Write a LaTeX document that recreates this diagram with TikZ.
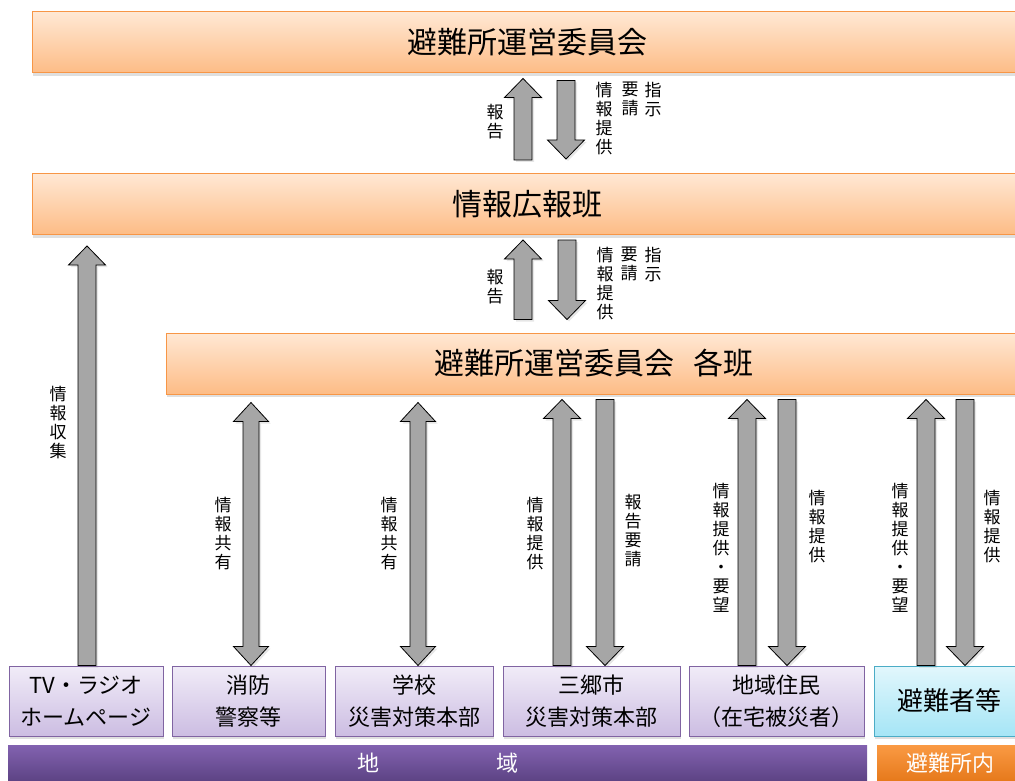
\documentclass[tikz,border=0pt]{standalone}
\usepackage{fontspec}
\newfontfamily\jp{Noto Sans CJK JP}
\usetikzlibrary{calc,shadows}

\definecolor{hdrline}{HTML}{F79646}
\definecolor{hdrtop}{HTML}{FFE8D4}
\definecolor{hdrbot}{HTML}{FDBC86}
\definecolor{orgline}{HTML}{8064A2}
\definecolor{orgtop}{HTML}{F1ECF8}
\definecolor{orgbot}{HTML}{CCBDE2}
\definecolor{evacline}{HTML}{4BACC6}
\definecolor{evactop}{HTML}{E2F7FC}
\definecolor{evacbot}{HTML}{A5E5F6}
\definecolor{regtop}{HTML}{8262B0}
\definecolor{regbot}{HTML}{5D4384}
\definecolor{insidetop}{HTML}{FA9A44}
\definecolor{insidebot}{HTML}{E6791B}
\definecolor{arrgray}{HTML}{A6A6A6}

% block arrows: #1 = tail, #2 = tip
\newcommand\arrup[2]{%
  \draw[blockarr] let \p1=(#1), \p2=(#2) in
    (\x1-9pt,\y1) -- (\x1-9pt,\y2-19pt) -- (\x1-18.5pt,\y2-19pt) -- (\x1,\y2)
    -- (\x1+18.5pt,\y2-19pt) -- (\x1+9pt,\y2-19pt) -- (\x1+9pt,\y1) -- cycle;}
\newcommand\arrdn[2]{%
  \draw[blockarr] let \p1=(#1), \p2=(#2) in
    (\x1-9pt,\y1) -- (\x1-9pt,\y2+19pt) -- (\x1-18.5pt,\y2+19pt) -- (\x1,\y2)
    -- (\x1+18.5pt,\y2+19pt) -- (\x1+9pt,\y2+19pt) -- (\x1+9pt,\y1) -- cycle;}
% #1 = upper tip, #2 = lower tip
\newcommand\arrboth[2]{%
  \draw[blockarr] let \p1=(#1), \p2=(#2) in
    (\x1,\y1) -- (\x1+17.5pt,\y1-19pt) -- (\x1+8pt,\y1-19pt) -- (\x1+8pt,\y2+19pt)
    -- (\x1+17.5pt,\y2+19pt) -- (\x1,\y2) -- (\x1-17.5pt,\y2+19pt) -- (\x1-8pt,\y2+19pt)
    -- (\x1-8pt,\y1-19pt) -- (\x1-17.5pt,\y1-19pt) -- cycle;}

\begin{document}
\begin{tikzpicture}[x=1pt,y=-1pt,
  hdr/.style = {draw=hdrline, line width=1pt,
     top color=hdrtop, bottom color=hdrbot,
     minimum height=61pt, inner sep=0pt,
     font=\jp\fontsize{30}{36}\selectfont,
     drop shadow={opacity=0.25, shadow xshift=1pt, shadow yshift=-3pt}},
  org/.style = {draw=orgline, line width=1pt,
     top color=orgtop, bottom color=orgbot,
     minimum height=70pt, inner sep=0pt, align=center,
     font=\jp\fontsize{22}{32}\selectfont,
     drop shadow={opacity=0.25, shadow xshift=1pt, shadow yshift=-3pt}},
  evac/.style = {draw=evacline, top color=evactop, bottom color=evacbot,
     font=\jp\fontsize{26}{32}\selectfont},
  band/.style = {minimum height=36pt, inner sep=0pt, text=white,
     font=\jp\fontsize{22}{26}\selectfont},
  blockarr/.style = {draw=black, line width=0.8pt, fill=arrgray,
     drop shadow={opacity=0.2, shadow xshift=2pt, shadow yshift=-2pt}},
  vlab/.style = {align=center, inner sep=0pt,
     font=\jp\fontsize{17}{19}\selectfont}]

\useasboundingbox (0,0) rectangle (1015,781);

% committee levels
\node[hdr, minimum width=990pt] (comm) at (527,42.5) {避難所運営委員会};
\node[hdr, minimum width=990pt] (info) at (527,204) {情報広報班};
\node[hdr, minimum width=856pt] (team) at (594,363.5) {避難所運営委員会\hspace{20pt}各班};

% outside parties
\node[org, minimum width=154pt] (tv) at (86,701) {TV・ラジオ\\ホームページ};
\node[org, minimum width=153pt] (fire) at (248.5,701) {消防\\警察等};
\node[org, minimum width=158pt] (school) at (414,701) {学校\\災害対策本部};
\node[org, minimum width=177pt] (city) at (591.5,701) {三郷市\\災害対策本部};
\node[org, minimum width=175pt] (resid) at (776.5,701) {地域住民\\（在宅被災者）};
\node[org, evac, minimum width=150pt] (evacs) at (949,701) {避難者等};

\node[band, minimum width=859pt, top color=regtop, bottom color=regbot]
  (region) at (437.5,763) {地\hspace{117pt}域};
\node[band, minimum width=147pt, top color=insidetop, bottom color=insidebot]
  (inside) at (950.5,763) {避難所内};

% arrows between the levels
\arrup{$(523,0 |- info.north)+(0,-13)$}{$(523,0 |- comm.south)+(0,5)$}
\arrdn{$(566,0 |- comm.south)+(0,7)$}{$(566,0 |- info.north)+(0,-14)$}
\arrup{$(523,0 |- team.north)+(0,-13)$}{$(523,0 |- info.south)+(0,5)$}
\arrdn{$(567,0 |- info.south)+(0,5)$}{$(567,0 |- team.north)+(0,-13)$}

\node[vlab] (rep1) at (495,122) {報\\告};
\node[vlab, anchor=north] (inf1) at (604,82) {情\\報\\提\\供};
\node[vlab, anchor=north] (req1) at (630,82) {要\\請};
\node[vlab, anchor=north] (ord1) at (653,82) {指\\示};
\node[vlab] (rep2) at (495,287) {報\\告};
\node[vlab, anchor=north] (inf2) at (605,247) {情\\報\\提\\供};
\node[vlab, anchor=north] (req2) at (629,247) {要\\請};
\node[vlab, anchor=north] (ord2) at (653,247) {指\\示};

% arrows to the outside parties
\arrup{87,0 |- tv.north}{$(87,0 |- info.south)+(0,11)$}
\foreach \xx/\nd in {251/fire, 418/school}
  \arrboth{$(\xx,0 |- team.south)+(0,8)$}{\xx,0 |- \nd.north};
\foreach \xu/\xd/\nd in {562/605/city, 747/787/resid, 926/965/evacs} {
  \arrup{\xu,0 |- \nd.north}{$(\xu,0 |- team.south)+(0,5)$}
  \arrdn{$(\xd,0 |- team.south)+(0,5)$}{\xd,0 |- \nd.north}
}

\node[vlab] (col) at (58,423) {情\\報\\収\\集};
\node[vlab] (shr1) at (223,534) {情\\報\\共\\有};
\node[vlab] (shr2) at (389,534) {情\\報\\共\\有};
\node[vlab] (cityup) at (535,534) {情\\報\\提\\供};
\node[vlab] (citydn) at (633,531) {報\\告\\要\\請};
\node[vlab] (resup) at (721,548) {情\\報\\提\\供\\・\\要\\望};
\node[vlab] (resdn) at (817,527) {情\\報\\提\\供};
\node[vlab] (evup) at (900,548) {情\\報\\提\\供\\・\\要\\望};
\node[vlab] (evdn) at (992,527) {情\\報\\提\\供};

\end{tikzpicture}
\end{document}
